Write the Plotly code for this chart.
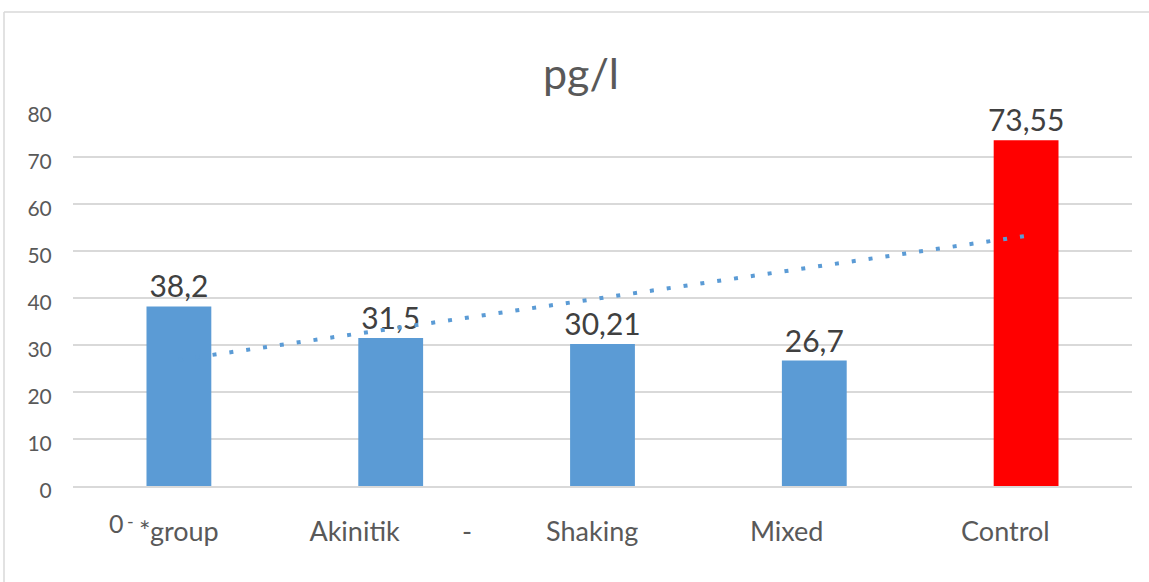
import numpy as np
import plotly.graph_objects as go

# Data
categories = ["*group", "Akinitik", "Shaking", "Mixed", "Control"]
values = [38.2, 31.5, 30.21, 26.7, 73.55]
bar_colors = ["#5B9BD5", "#5B9BD5", "#5B9BD5", "#5B9BD5", "#FF0000"]
y_ticks = [0, 10, 20, 30, 40, 50, 60, 70, 80]
# trailing text carried by each category label (non-breaking spaces, stray dash)
label_tail = ["", "\u00a0" * 9 + "-", "\u00a0" * 3, "\u00a0" * 8, "\u00a0" * 6]

labels = [f"{v:g}".replace(".", ",") for v in values]
tick_text = [c + t for c, t in zip(categories, label_tail)]

# Linear trendline fitted over the category index
idx = np.arange(1, len(values) + 1)
slope, intercept = np.polyfit(idx, values, 1)
trend = slope * idx + intercept

W, H = 1149, 582
L, R, T, B = 73, 17, 110, 96
plot_w = W - L - R
plot_h = H - T - B


def px_x(px):
    return (px - L) / plot_w


def px_y(py):
    return (H - B - py) / plot_h


FONT = "Lato"

fig = go.Figure()
fig.add_trace(go.Bar(
    x=categories, y=values,
    marker=dict(color=bar_colors, line=dict(width=0)),
    width=0.306,
    text=labels, textposition="outside", constraintext="none",
    textfont=dict(family=FONT, size=30, color="#404040"),
    cliponaxis=False,
    showlegend=False,
))
fig.add_trace(go.Scatter(
    x=categories, y=trend, mode="lines",
    line=dict(color="#5B9BD5", width=4, dash="4px,13px"),
    hoverinfo="skip", showlegend=False,
))

fig.update_layout(
    width=W, height=H,
    margin=dict(l=L, r=R, t=T, b=B, pad=0),
    paper_bgcolor="white", plot_bgcolor="white",
    title=dict(text="pg/l", x=581 / W, xanchor="center",
               y=1 - 74 / H, yanchor="middle",
               font=dict(family=FONT, size=43, color="#595959")),
    font=dict(family=FONT, color="#595959"),
)
fig.update_yaxes(
    range=[0, 80], tickvals=y_ticks,
    showgrid=True, gridcolor="#D9D9D9", gridwidth=1.5,
    zeroline=False, showline=False,
    ticks="outside", ticklen=16, tickcolor="rgba(0,0,0,0)",
    ticklabelshift=5,
    tickfont=dict(family=FONT, size=21, color="#595959"),
)
fig.update_xaxes(
    tickmode="array", tickvals=categories, ticktext=tick_text,
    showgrid=False, showline=True, linecolor="#D9D9D9", linewidth=1.5,
    ticks="", ticklabelstandoff=21,
    tickfont=dict(family=FONT, size=27, color="#595959"),
)

# Stray marks left of the first category label
fig.add_annotation(text="0", x=px_x(116.5), y=px_y(523), xref="paper", yref="paper",
                   showarrow=False, xanchor="center", yanchor="middle",
                   font=dict(family=FONT, size=25, color="#595959"))
fig.add_annotation(text="-", x=px_x(130.5), y=px_y(521), xref="paper", yref="paper",
                   showarrow=False, xanchor="center", yanchor="middle",
                   font=dict(family=FONT, size=18, color="#595959"))

# Chart frame (top and left edges)
fig.add_shape(type="line", xref="paper", yref="paper",
              x0=px_x(4), x1=px_x(W + 5), y0=px_y(12), y1=px_y(12),
              line=dict(color="#D9D9D9", width=1.5))
fig.add_shape(type="line", xref="paper", yref="paper",
              x0=px_x(4), x1=px_x(4), y0=px_y(12), y1=px_y(H + 5),
              line=dict(color="#D9D9D9", width=1.5))

fig.write_html("out.html")
